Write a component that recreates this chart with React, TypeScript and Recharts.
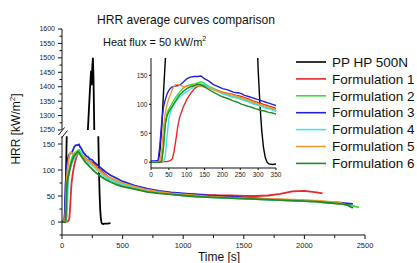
import React from 'react';
import { LineChart, Line, XAxis, YAxis } from 'recharts';

// ---- data (time in s, HRR in kW/m2) ----
const times = [0,10,20,25,30,35,40,45,50,55,60,65,70,75,80,90,100,110,120,130,140,150,160,175,190,200,215,230,240,245,250,255,260,265,275,285,290,295,300,305,310,315,320,325,330,340,350,375,400,450,500,600,700,800,900,1000,1100,1200,1300,1400,1500,1600,1700,1800,1900,2000,2100,2150,2200,2300,2350,2400,2450];

const ppHp500n = [0,0,0,20,60,120,175,230,280,320, 360,400,440,480,520,590,660,720,780,830, 880,930,980,1050,1120,1170,1262,1385,1455,1405, 1470,1500,1430,1290,960,600,400,250,160,100, 55,25,8,0,-3,-4,-3,-3,-2];

const formulation1 = [0,0,0,0,0,1,1,1,2,3, 6,20,40,62,77,95,108,118,126,131, 133,132,130,127,123,121,119,117,115,115, 114,113,112,111,109,106,105,104,103,102, 101,100,99,98,97,95,93,88,83,76, 71,64,59,56,55,54,53,52,51,51, 50,50,51,54,59,60,57,55];

const formulation2 = [1,1,1,1,3,30,70,85,92,97, 103,108,113,117,121,128,132,134,135,137, 139,136,132,127,122,119,116,113,112,111, 110,109,108,107,105,102,101,100,99,98, 97,96,95,94,93,91,89,85,82,77, 73,66,61,57,54,52,50,48,47,46, 45,44,43,42,41,40,39,38,37,35, 34,31,28];

const formulation3 = [2,2,3,30,70,95,108,118,124,128, 130,131,132,132,133,138,144,147,148,148, 149,144,141,134,130,127,125,121,120,120, 119,118,116,115,113,111,110,109,108,107, 106,105,104,103,102,100,98,94,90,84, 78,70,64,60,57,55,53,51,50,49, 47,46,44,43,42,41,40,39,38,37, 36,35];

const formulation4 = [1,1,1,1,1,2,10,45,75,88, 95,100,105,109,112,118,122,126,130,134, 135,134,130,126,121,118,115,112,111,110, 109,108,107,106,104,101,100,99,98,97, 96,95,94,93,92,90,88,84,81,76, 72,65,60,56,53,51,49,48,47,46, 45,44,43,42,41,40,39,39,38,36];

const formulation5 = [1,1,1,3,20,60,85,100,110,118, 126,132,134,134,133,131,131,132,133,132, 131,130,128,125,122,120,118,116,114,113, 112,111,110,109,107,104,103,102,101,100, 99,98,97,96,95,93,91,88,85,80, 75,68,62,58,55,53,51,49,48,47, 46,45,44,44,43,42,41,40,39,37, 32];

const formulation6 = [0,0,0,0,2,25,65,80,87,92, 97,102,107,112,116,122,127,130,132,135, 134,130,126,121,116,113,110,106,104,103, 101,100,99,98,96,94,93,92,91,90, 89,89,88,87,86,85,83,80,77,72, 68,63,58,55,53,51,49,48,47,46, 45,44,43,42,41,40,39,38,37,35, 33,27];

const seriesNames = ['PP HP 500N', 'Formulation 1', 'Formulation 2', 'Formulation 3', 'Formulation 4', 'Formulation 5', 'Formulation 6'];
const seriesColors = ['#000000', '#e8282c', '#3cdc3c', '#2222dd', '#40e4ea', '#f29a2e', '#1f8c24'];
const seriesValues = [ppHp500n, formulation1, formulation2, formulation3, formulation4, formulation5, formulation6];

const mainXTicks = [0, 250, 500, 750, 1000, 1250, 1500, 1750, 2000, 2250, 2500];
const lowerYTicks = [-25, 0, 25, 50, 75, 100, 125, 150];
const upperYTicks = [1250, 1275, 1300, 1325, 1350, 1375, 1400, 1425, 1450, 1475, 1500, 1525, 1550, 1575, 1600];
const insetXTicks = [0, 50, 100, 150, 200, 250, 300, 350];
const insetYTicks = [0, 50, 100, 150];

const titleText = 'HRR average curves comparison';
const subtitleText = 'Heat flux = 50 kW/m';
const yTitleText = 'HRR [kW/m';
const xTitleText = 'Time [s]';

// ---- build table ----
const rows = times.map((t, i) => {
  const r: any = { t };
  seriesValues.forEach((arr, k) => {
    r['s' + k] = i < arr.length ? arr[i] : null;
  });
  return r;
});

const FONT = '"Liberation Sans", Arial, sans-serif';

function makeYTick(isMajor: (v: number) => boolean, fontSize: number, majorLen: number, minorLen: number, gap: number) {
  return (props: any) => {
    const { x, y, payload } = props;
    const v = payload.value;
    const major = isMajor(v);
    return (
      <g>
        <line x1={x - (major ? majorLen : minorLen)} x2={x} y1={y} y2={y} stroke="#111" strokeWidth={1} />
        {major ? (
          <text x={x - gap} y={y} dy="0.35em" textAnchor="end" fontSize={fontSize} fill="#222" fontFamily={FONT}>
            {v}
          </text>
        ) : null}
      </g>
    );
  };
}

function makeXTick(isMajor: (v: number) => boolean, fontSize: number, majorLen: number, minorLen: number, gap: number) {
  return (props: any) => {
    const { x, y, payload } = props;
    const v = payload.value;
    const major = isMajor(v);
    return (
      <g>
        <line x1={x} x2={x} y1={y} y2={y + (major ? majorLen : minorLen)} stroke="#111" strokeWidth={1} />
        {major ? (
          <text x={x} y={y + gap} dy="0.35em" textAnchor="middle" fontSize={fontSize} fill="#222" fontFamily={FONT}>
            {v}
          </text>
        ) : null}
      </g>
    );
  };
}

const lowerYTick = makeYTick((v) => v >= 0 && v % 50 === 0, 7.5, 4, 2.5, 7);
const upperYTick = makeYTick((v) => v % 50 === 0, 7, 4, 2.5, 7);
const mainXTick = makeXTick((v) => v % 500 === 0, 7.5, 4, 3, 10.5);
const insetYTick = makeYTick(() => true, 6.5, 2, 2, 3.5);
const insetXTick = makeXTick(() => true, 6.5, 2, 2, 6.5);

const axisLine = { stroke: '#111', strokeWidth: 1 };

export default function App() {
  return (
    <div
      style={{
        position: 'absolute',
        left: 0,
        top: 0,
        width: 417,
        height: 263,
        background: '#fff',
        overflow: 'hidden',
        fontFamily: FONT,
      }}
    >
      {/* upper segment of the broken axis */}
      <div style={{ position: 'absolute', left: 0, top: 19 }}>
        <LineChart width={380} height={117} data={rows} margin={{ top: 10, right: 15, left: 0, bottom: 6 }}>
          <XAxis dataKey="t" type="number" domain={[0, 2500]} allowDataOverflow hide />
          <YAxis
            type="number"
            domain={[1250, 1600]}
            ticks={upperYTicks}
            interval={0}
            allowDataOverflow
            width={62}
            tickLine={false}
            tickSize={0}
            tickMargin={0}
            axisLine={axisLine}
            tick={upperYTick}
          />
          <Line dataKey="s0" stroke={seriesColors[0]} strokeWidth={1.8} dot={false} isAnimationActive={false} />
        </LineChart>
      </div>

      {/* lower segment */}
      <div style={{ position: 'absolute', left: 0, top: 126 }}>
        <LineChart width={380} height={137} data={rows} margin={{ top: 10.2, right: 15, left: 0, bottom: 0 }}>
          <XAxis
            dataKey="t"
            type="number"
            domain={[0, 2500]}
            ticks={mainXTicks}
            interval={0}
            allowDataOverflow
            height={28}
            tickLine={false}
            tickSize={0}
            tickMargin={0}
            axisLine={axisLine}
            tick={mainXTick}
          />
          <YAxis
            type="number"
            domain={[-25, 165]}
            ticks={lowerYTicks}
            interval={0}
            allowDataOverflow
            width={62}
            tickLine={false}
            tickSize={0}
            tickMargin={0}
            axisLine={axisLine}
            tick={lowerYTick}
          />
          {seriesNames.map((n, k) => (
            <Line
              key={n}
              dataKey={'s' + k}
              name={n}
              stroke={seriesColors[k]}
              strokeWidth={1.8}
              dot={false}
              isAnimationActive={false}
            />
          ))}
        </LineChart>
      </div>

      {/* inset */}
      <div style={{ position: 'absolute', left: 120, top: 50 }}>
        <LineChart width={166} height={130} data={rows} margin={{ top: 8, right: 10, left: 0, bottom: 0 }}>
          <XAxis
            dataKey="t"
            type="number"
            domain={[0, 350]}
            ticks={insetXTicks}
            interval={0}
            allowDataOverflow
            height={12}
            tickLine={false}
            tickSize={0}
            tickMargin={0}
            axisLine={axisLine}
            tick={insetXTick}
          />
          <YAxis
            type="number"
            domain={[-10, 180]}
            ticks={insetYTicks}
            interval={0}
            allowDataOverflow
            width={31}
            tickLine={false}
            tickSize={0}
            tickMargin={0}
            axisLine={axisLine}
            tick={insetYTick}
          />
          {seriesNames.map((n, k) => (
            <Line
              key={n}
              dataKey={'s' + k}
              name={n}
              stroke={seriesColors[k]}
              strokeWidth={1.4}
              dot={false}
              isAnimationActive={false}
            />
          ))}
        </LineChart>
      </div>

      {/* texts, axis break, legend */}
      <svg
        width={417}
        height={263}
        style={{ position: 'absolute', left: 0, top: 0, pointerEvents: 'none' }}
        fontFamily={FONT}
      >
        <text x={97} y={24} fontSize={13} fill="#111" textLength={178} lengthAdjust="spacingAndGlyphs">
          {titleText}
        </text>
        <text x={103} y={45.5} fontSize={11} fill="#111">
          {subtitleText}
          <tspan dy={-4.5} fontSize={7}>2</tspan>
        </text>
        <text transform="translate(19.5,129) rotate(-90)" x={0} y={0} textAnchor="middle" fontSize={12} fill="#111">
          {yTitleText}
          <tspan dy={-4.5} fontSize={8}>2</tspan>
          <tspan dy={4.5}>]</tspan>
        </text>
        <text x={219} y={256.5} dy="0.35em" textAnchor="middle" fontSize={12} fill="#111">
          {xTitleText}
        </text>

        {/* axis break marks */}
        <rect x={60} y={130.5} width={4} height={5.5} fill="#fff" />
        <line x1={58.5} y1={135} x2={64.5} y2={127.5} stroke="#111" strokeWidth={1} />
        <line x1={61.5} y1={138} x2={67.5} y2={130.5} stroke="#111" strokeWidth={1} />

        {seriesNames.map((n, i) => (
          <g key={n}>
            <line x1={296} x2={326} y1={62 + i * 16.9} y2={62 + i * 16.9} stroke={seriesColors[i]} strokeWidth={1.6} />
            <text x={332} y={62 + i * 16.9} dy="0.35em" fontSize={13.5} fill="#111">
              {n}
            </text>
          </g>
        ))}
      </svg>
    </div>
  );
}
